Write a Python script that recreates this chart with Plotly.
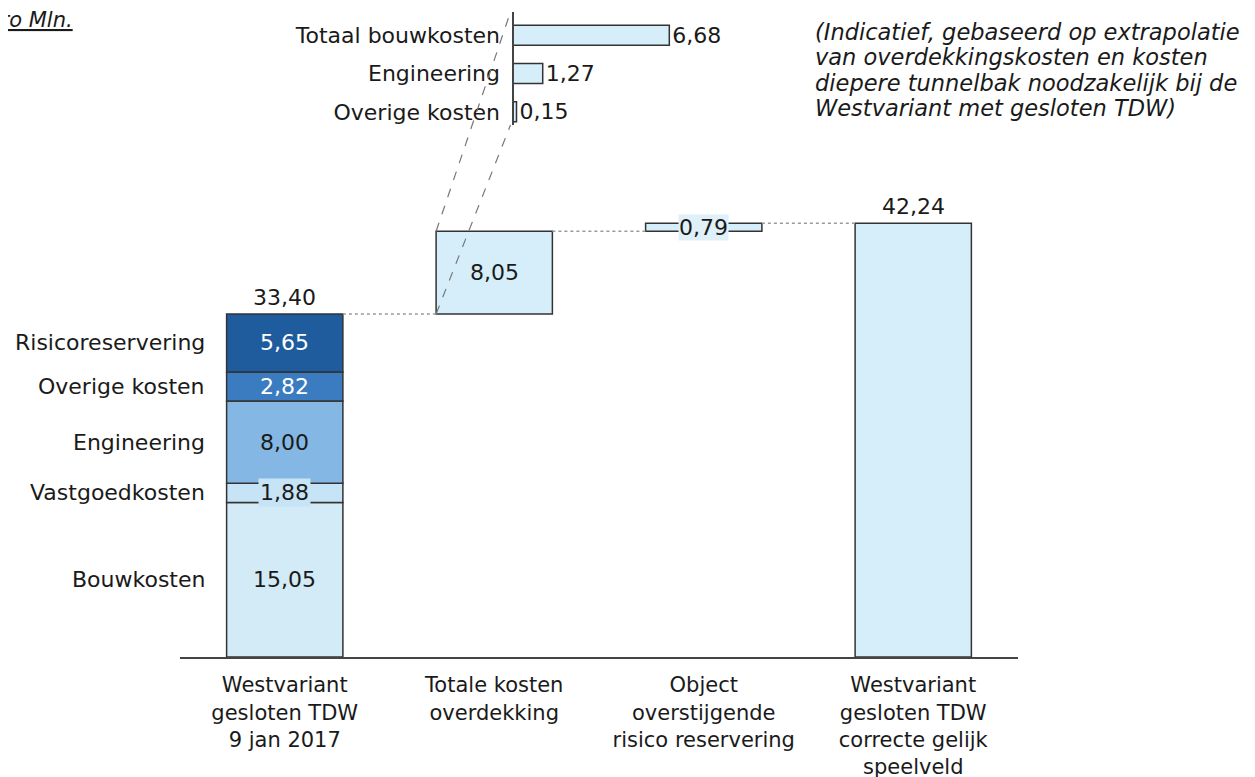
import plotly.graph_objects as go

# main waterfall
categories = [
    "Westvariant<br>gesloten TDW<br>9 jan 2017",
    "Totale kosten<br>overdekking",
    "Object<br>overstijgende<br>risico reservering",
    "Westvariant<br>gesloten TDW<br>correcte gelijk<br>speelveld",
]
start_parts = ["Bouwkosten", "Vastgoedkosten", "Engineering", "Overige kosten", "Risicoreservering"]
start_values = [15.05, 1.88, 8.00, 2.82, 5.65]
start_total = 33.40
overdekking = 8.05
risico_extra = 0.79
end_total = 42.24

# inset: breakdown of overdekking
inset_labels = ["Totaal bouwkosten", "Engineering", "Overige kosten"]
inset_values = [6.68, 1.27, 0.15]

note_lines = [
    "(Indicatief, gebaseerd op extrapolatie",
    "van overdekkingskosten en kosten",
    "diepere tunnelbak noodzakelijk bij de",
    "Westvariant met gesloten TDW)",
]

PART_COLORS = ["#D3EBF7", "#C6E4F5", "#84B7E3", "#3A7CBF", "#1E5C9E"]
PART_TEXT = ["#1a1a1a", "#1a1a1a", "#1a1a1a", "white", "white"]
LIGHT = "#D6EEF9"
EDGE = "#333333"
TEXT = "#1a1a1a"
FONT = "DejaVu Sans"

W, H = 1255, 777
OFF = 8  # page body margin


def px(p):
    return (p - OFF) / W


def py(p):
    return 1 - (p - OFF) / H


BAR_W = 0.555
X_DOM = [px(180), px(1018)]
Y_DOM = [py(657), 1.0]
Y_RANGE = [0, (657 - OFF) / 10.27]


def fmt(v):
    return f"{v:.2f}".replace(".", ",")


def xp(xv):
    return X_DOM[0] + (xv + 0.5) / 4 * (X_DOM[1] - X_DOM[0])


def yp(yv):
    return Y_DOM[0] + (yv - Y_RANGE[0]) / (Y_RANGE[1] - Y_RANGE[0]) * (Y_DOM[1] - Y_DOM[0])


fig = go.Figure()
line = dict(color=EDGE, width=1.5)

base = 0
bases = []
for name, val, col in zip(start_parts, start_values, PART_COLORS):
    bases.append(base)
    fig.add_trace(go.Bar(x=[categories[0]], y=[val], base=[base], width=BAR_W,
                         marker=dict(color=col, line=line), name=name, showlegend=False))
    base += val

after_over = start_total + overdekking
fig.add_trace(go.Bar(x=[categories[1]], y=[overdekking], base=[start_total], width=BAR_W,
                     marker=dict(color=LIGHT, line=line), showlegend=False))
fig.add_trace(go.Bar(x=[categories[2]], y=[risico_extra], base=[after_over], width=BAR_W,
                     marker=dict(color=LIGHT, line=line), showlegend=False))
fig.add_trace(go.Bar(x=[categories[3]], y=[end_total], base=[0], width=BAR_W,
                     marker=dict(color=LIGHT, line=line), showlegend=False))

# inset bars
fig.add_trace(go.Bar(
    x=inset_values, y=inset_labels, orientation="h", xaxis="x2", yaxis="y2", width=0.52,
    marker=dict(color=LIGHT, line=line), showlegend=False,
    text=[fmt(v) for v in inset_values], textposition="outside", cliponaxis=False,
    constraintext="none", textfont=dict(size=22, color=TEXT, family=FONT),
))

ann = []
# segment labels inside / left of the stacked bar
for name, val, b, tc in zip(start_parts, start_values, bases, PART_TEXT):
    mid = b + val / 2
    ann.append(dict(x=0, y=mid, xref="x", yref="y", text=fmt(val), showarrow=False,
                    font=dict(size=22, color=tc),
                    bgcolor="#C6E4F5" if val < 2.5 else None, borderpad=1))
    ann.append(dict(x=-BAR_W / 2, y=mid, xref="x", yref="y", text=name, showarrow=False,
                    xanchor="right", xshift=-20, font=dict(size=22, color=TEXT)))

ann.append(dict(x=0, y=start_total, xref="x", yref="y", text=fmt(start_total), showarrow=False,
                yanchor="bottom", yshift=2, font=dict(size=22, color=TEXT)))
ann.append(dict(x=1, y=start_total + overdekking / 2, xref="x", yref="y", text=fmt(overdekking),
                showarrow=False, font=dict(size=22, color=TEXT)))
ann.append(dict(x=2, y=after_over + risico_extra / 2, xref="x", yref="y", text=fmt(risico_extra),
                showarrow=False, font=dict(size=22, color=TEXT), bgcolor="#DFF0F9", borderpad=0))
ann.append(dict(x=3, y=end_total, xref="x", yref="y", text=fmt(end_total), showarrow=False,
                yanchor="bottom", yshift=2, font=dict(size=22, color=TEXT)))

for i, t in enumerate(note_lines):
    ann.append(dict(x=px(813), y=py(32 + i * 25.3), xref="paper", yref="paper",
                    xanchor="left", yanchor="middle", showarrow=False,
                    font=dict(size=22.5, color=TEXT), text=f"<i>{t}</i>"))
ann.append(dict(x=px(75), y=py(20), xref="paper", yref="paper", xanchor="right", yanchor="middle",
                showarrow=False, font=dict(size=21, color=TEXT), text="<i><u>Euro Mln.</u></i>"))

shapes = []
# dotted connectors between waterfall steps
levels = [start_total, after_over, end_total]
for i, lv in enumerate(levels):
    shapes.append(dict(type="line", xref="x", yref="y", x0=i + BAR_W / 2, x1=i + 1 - BAR_W / 2,
                       y0=lv, y1=lv, line=dict(color="#9a9a9a", width=1.5, dash="dot")))
# dashed lines from overdekking bar to inset
inset_x0 = px(513)
for yv, ytop in [(after_over, py(12)), (start_total, py(125))]:
    shapes.append(dict(type="line", xref="paper", yref="paper", x0=xp(1 - BAR_W / 2), y0=yp(yv),
                       x1=inset_x0 - 0.002, y1=ytop, line=dict(color="#777777", width=1.2, dash="dash")))
# inset axis line
shapes.append(dict(type="line", xref="paper", yref="paper", x0=inset_x0, x1=inset_x0,
                   y0=py(125), y1=py(12), line=dict(color="#444444", width=2)))

fig.update_layout(
    width=W, height=H,
    barmode="overlay",
    paper_bgcolor="white", plot_bgcolor="white",
    font=dict(family=FONT, size=22, color=TEXT),
    margin=dict(l=0, r=0, t=0, b=0),
    xaxis=dict(domain=X_DOM, showgrid=False, zeroline=False, showline=True, linecolor="#444444",
               linewidth=2, ticks="", tickfont=dict(size=21, color=TEXT), automargin=False,
               ticklabelstandoff=8, range=[-0.5, 3.5]),
    yaxis=dict(domain=Y_DOM, range=Y_RANGE, visible=False),
    xaxis2=dict(domain=[inset_x0, px(747)], anchor="y2", range=[0, 10], visible=False),
    yaxis2=dict(domain=[py(131), py(16)], anchor="x2", autorange="reversed",
                showgrid=False, zeroline=False, showline=False, ticks="", ticklabelstandoff=12,
                tickfont=dict(size=22, color=TEXT), automargin=False),
    annotations=ann,
    shapes=shapes,
)

fig.write_html("out.html")
